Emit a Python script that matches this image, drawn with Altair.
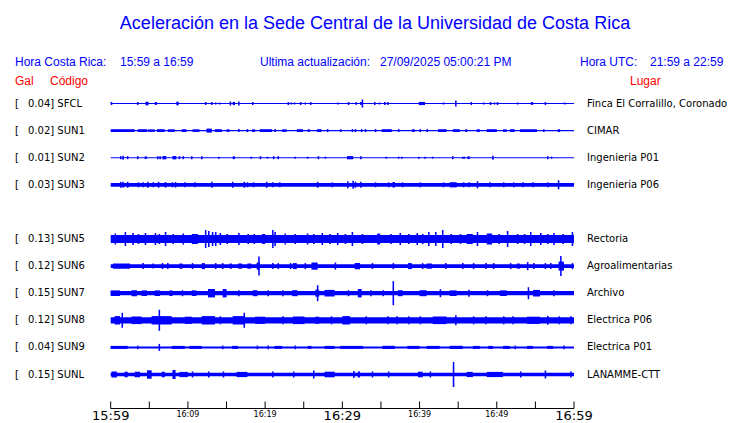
import altair as alt
import pandas as pd

BLUE = "#0000ff"
RED = "#ff0000"
SANS = "Liberation Sans"
DEJA = "DejaVu Sans"
W, H = 724, 415

# ---- stations ----
stations = ["SFCL", "SUN1", "SUN2", "SUN3", "SUN5", "SUN6", "SUN7", "SUN8", "SUN9", "SUNL"]
slots = [0, 1, 2, 3, 5, 6, 7, 8, 9, 10]
gal = [0.04, 0.02, 0.01, 0.03, 0.13, 0.12, 0.15, 0.12, 0.04, 0.15]
places = ["Finca El Corralillo, Coronado", "CIMAR", "Ingenieria P01", "Ingenieria P06",
          "Rectoria", "Agroalimentarias", "Archivo", "Electrica P06", "Electrica P01", "LANAMME-CTT"]

# background noise half-amplitude of each trace (display units)
base_amp = [0.6, 0.7, 0.5, 1.9, 4.1, 1.8, 2.1, 3.1, 1.0, 1.8]

# bursts: (start minute, end minute, half-amplitude)
bursts_SFCL = [(0.0, 0.2, 1.5), (3.4, 3.4, 1.5), (4.5, 4.9, 1.8), (5.7, 6.0, 1.4), (8.5, 8.8, 1.8),
               (12.2, 12.2, 1.5), (13.0, 13.0, 1.5), (13.5, 13.5, 1), (14.0, 14.0, 1), (15.4, 15.4, 2),
               (15.8, 16.1, 1.6), (16.5, 16.6, 2), (18.3, 18.3, 1.5), (22.9, 22.9, 1.5), (23.3, 23.3, 1),
               (23.7, 23.7, 1), (24.5, 24.5, 1.5), (25.1, 25.1, 1), (25.8, 25.9, 1.5), (29.3, 29.3, 1),
               (30.7, 30.7, 1.5), (31.7, 31.9, 1.4), (32.3, 32.3, 1.5), (32.5, 32.5, 4), (34.1, 34.1, 1.5),
               (34.7, 34.7, 1), (35.4, 35.4, 1.5), (35.8, 36.0, 1.4), (39.9, 40.7, 1.6), (43.0, 43.0, 1),
               (44.6, 44.8, 3), (46.6, 46.6, 1.5), (48.2, 48.2, 1), (49.1, 49.1, 1.5), (49.6, 49.6, 1),
               (50.0, 50.0, 1.5), (52.6, 52.6, 1), (54.4, 54.7, 1.4), (56.2, 56.2, 1.5), (58.7, 58.7, 1)]
bursts_SUN1 = [(0, 3.1, 1.4), (3.5, 4.7, 1.4), (4.8, 5.7, 1.2), (6.0, 7.0, 1.4), (7.4, 8.3, 1.3),
               (9.2, 9.8, 1.4), (10.6, 11.5, 1.3), (12.4, 13.1, 2.0), (13.5, 14.4, 1.4), (15.0, 15.4, 1.3),
               (16.5, 16.5, 1.5), (17.6, 17.6, 1.5), (18.3, 18.7, 1.3), (19.3, 20.9, 1.4), (21.2, 21.2, 1.5),
               (22.2, 22.8, 1.3), (24.1, 24.9, 1.4), (25.5, 25.8, 1.3), (26.7, 27.3, 1.4), (28.0, 28.0, 1.5),
               (29.7, 29.9, 1.4), (31.2, 31.2, 1.5), (31.6, 31.6, 1.5), (32.4, 32.4, 1.5), (32.9, 32.9, 1.5),
               (34.2, 34.2, 1.5), (35.1, 36.4, 1.4), (37.2, 37.4, 1.5), (39.0, 39.4, 1.3), (40.0, 40.0, 1.5),
               (40.9, 40.9, 1.5), (42.4, 43.5, 1.4), (44.3, 45.2, 1.4), (45.9, 46.2, 1.3), (47.4, 47.8, 1.4),
               (48.7, 50.0, 1.4), (50.8, 51.3, 1.3), (51.7, 52.3, 1.4), (53.0, 55.2, 1.4), (56.0, 56.2, 1.4),
               (57.9, 58.2, 1.4)]
bursts_SUN2 = [(1.2, 1.2, 1.5), (1.5, 1.5, 2), (2.1, 2.1, 1.5), (3.4, 3.4, 1.5), (4.4, 4.7, 1.3),
               (6.0, 6.0, 1.5), (6.3, 6.3, 1.5), (6.7, 7.2, 1.7), (8.0, 8.5, 1.7), (8.8, 8.8, 1.5), (9.3, 9.3, 1.5),
               (10.4, 10.5, 1.5), (11.7, 11.7, 1.5), (13.9, 13.9, 1), (15.8, 16.1, 1.4), (18.1, 18.1, 1),
               (19.3, 19.3, 1.5), (20.2, 20.2, 1), (21.0, 21.0, 1.5), (21.6, 21.6, 1.5), (23.8, 23.8, 1),
               (25.4, 25.4, 1), (26.8, 26.8, 1.5), (27.7, 27.7, 1), (30.6, 31.4, 1.6), (32.3, 32.3, 1.5),
               (35.6, 35.6, 1), (37.2, 37.2, 1), (37.6, 37.6, 1), (39.8, 39.8, 1), (40.6, 40.6, 1),
               (41.6, 41.6, 1), (44.2, 44.2, 1.5), (45.5, 45.5, 1), (45.7, 45.7, 1), (46.2, 46.5, 1.4),
               (49.4, 49.4, 2), (56.5, 56.6, 1.5), (57.0, 57.0, 1)]
bursts_SUN3 = [(1.2, 1.2, 3), (1.5, 1.5, 3), (2.1, 2.1, 3), (3.5, 3.5, 2.5), (4.1, 4.1, 2.5), (4.7, 4.7, 3),
               (5.4, 5.4, 2.5), (6.1, 6.1, 3), (7.0, 7.2, 2.8), (7.9, 7.9, 2.5), (8.3, 8.5, 2.8), (9.5, 9.5, 2.5),
               (10.8, 10.8, 2.5), (13.0, 13.0, 3), (15.7, 15.8, 3), (17.2, 17.2, 3), (17.6, 17.6, 2.5),
               (18.4, 18.4, 2.5), (20.1, 20.1, 3), (20.9, 20.9, 2.5), (21.8, 21.8, 2.5), (26.7, 26.8, 3),
               (28.6, 28.6, 2.5), (30.6, 30.7, 3.5), (31.3, 31.3, 4), (31.6, 31.6, 3), (32.3, 32.3, 3),
               (34.2, 34.2, 2.5), (35.9, 35.9, 2.5), (36.5, 36.8, 2.8), (37.7, 37.7, 2.5), (40.0, 40.0, 2.5),
               (43.0, 43.0, 2.5), (43.9, 44.8, 2.6), (45.6, 45.6, 2.5), (46.3, 46.3, 2.5), (47.4, 47.4, 3.5),
               (49.0, 49.0, 2.5), (50.8, 50.8, 2.5), (52.1, 52.1, 2.5), (53.3, 53.3, 2.5), (54.6, 54.6, 2.5),
               (56.5, 56.5, 2.5), (57.9, 57.9, 4.5)]
bursts_SUN5 = [(0.5, 0.5, 5.5), (1.8, 1.8, 7), (2.8, 2.8, 6), (3.5, 3.5, 5), (4.4, 4.4, 6), (5.7, 5.7, 6),
               (6.2, 6.2, 5), (7.0, 7.0, 7), (8.0, 8.0, 5), (9.3, 9.3, 5.5), (10.5, 11.3, 5), (12.2, 12.2, 9),
               (12.6, 12.6, 8), (13.1, 13.1, 7), (13.5, 13.5, 7), (14.1, 14.1, 6), (15.0, 15.0, 5),
               (16.5, 16.5, 6), (17.7, 17.7, 5), (18.5, 18.5, 5), (19.6, 20.0, 5), (20.9, 20.9, 9),
               (21.2, 21.2, 7), (22.5, 22.5, 5.5), (23.8, 23.8, 5), (25.4, 25.4, 5.5), (26.2, 26.2, 5),
               (27.3, 27.3, 6), (28.3, 28.3, 5), (29.3, 29.3, 6), (30.3, 30.3, 5), (31.2, 31.2, 7),
               (32.5, 32.5, 5), (34.5, 34.9, 5.5), (36.2, 36.2, 5), (37.4, 37.4, 6), (38.5, 38.5, 5),
               (39.6, 39.6, 6), (40.3, 40.3, 5), (41.1, 41.1, 7), (42.0, 42.0, 7), (42.9, 42.9, 9),
               (44.0, 44.0, 5), (45.2, 45.2, 5), (46.1, 46.9, 5), (47.4, 47.4, 7), (48.7, 49.4, 5.5),
               (50.2, 50.2, 5), (51.3, 51.3, 8), (52.6, 52.6, 5), (53.5, 53.5, 5), (54.3, 54.3, 7),
               (55.6, 55.6, 6), (56.5, 56.5, 5), (57.3, 57.3, 6), (58.5, 58.5, 5), (59.7, 59.7, 7)]
bursts_SUN6 = [(0.3, 2.5, 2.6), (4.1, 4.1, 3), (5.4, 5.4, 2.5), (6.6, 6.6, 3), (7.3, 7.3, 3), (8.9, 9.3, 2.6),
               (10.5, 10.5, 3), (11.8, 12.2, 3.0), (13.5, 13.5, 3), (14.4, 14.4, 3), (15.4, 15.7, 2.6),
               (16.5, 17.0, 2.6), (17.7, 18.2, 2.6), (18.9, 19.3, 3.5), (19.1, 19.1, 9.5), (20.9, 20.9, 3),
               (21.6, 21.6, 3), (23.2, 23.2, 3), (23.6, 24.1, 3.0), (25.1, 25.1, 3), (26.0, 26.8, 3.6),
               (29.0, 29.0, 3.5), (31.6, 32.3, 3.2), (33.8, 33.8, 3), (36.5, 36.5, 3), (38.5, 39.0, 3.0),
               (40.3, 40.3, 3), (40.9, 41.6, 2.6), (43.3, 43.3, 3), (45.5, 45.5, 3), (46.9, 46.9, 3),
               (48.5, 48.5, 3), (49.5, 49.5, 3), (51.7, 51.7, 3), (52.6, 53.0, 2.6), (53.9, 53.9, 4),
               (54.7, 54.7, 3), (56.2, 56.2, 3), (56.9, 56.9, 3), (58.0, 58.7, 4.5), (58.2, 58.4, 10),
               (59.7, 59.7, 3)]
bursts_SUN7 = [(0.0, 1.2, 2.8), (2.7, 3.4, 3.0), (4.0, 4.7, 2.8), (5.7, 6.4, 2.8), (7.6, 8.0, 2.8), (9.2, 9.2, 3),
               (10.5, 11.1, 2.8), (12.6, 13.5, 4.2), (14.5, 15.0, 4.2), (16.5, 16.5, 3), (18.4, 19.0, 3.0),
               (20.3, 20.3, 3), (22.2, 22.2, 3), (23.5, 24.2, 3.0), (26.5, 27.0, 3.5), (26.7, 26.7, 8),
               (27.7, 29.0, 3.3), (30.7, 30.7, 3), (32.0, 32.5, 4.2), (33.6, 33.6, 3), (35.2, 35.2, 3),
               (36.5, 36.5, 12), (37.2, 37.8, 3.0), (40.0, 40.9, 3.0), (42.6, 42.6, 4), (43.9, 44.8, 2.8),
               (46.3, 46.3, 3.5), (48.7, 48.7, 3), (50.4, 51.3, 2.8), (54.0, 54.0, 6), (54.7, 55.6, 3.3),
               (57.3, 57.3, 3)]
bursts_SUN8 = [(0.5, 1.2, 4.2), (1.4, 1.4, 7.5), (2.7, 4.0, 3.8), (5.3, 7.9, 4.2), (6.2, 6.2, 10.5),
               (9.6, 10.5, 3.6), (11.8, 13.5, 4.2), (14.1, 14.1, 4), (15.8, 17.4, 4.2), (17.2, 17.2, 7.5),
               (18.7, 20.0, 3.6), (22.2, 22.2, 4), (23.6, 25.1, 3.8), (26.5, 27.0, 3.6), (28.5, 28.5, 4),
               (30.0, 31.0, 4.2), (33.0, 33.0, 4), (35.8, 35.8, 4), (37.0, 37.0, 4), (38.5, 38.5, 4),
               (40.0, 40.0, 4), (41.7, 43.5, 3.8), (44.6, 44.6, 5), (46.9, 46.9, 4), (48.5, 48.5, 4),
               (50.8, 50.8, 4), (52.0, 52.0, 4), (53.9, 55.6, 3.6), (56.5, 56.5, 4.5), (58.0, 58.0, 4),
               (59.5, 59.5, 4)]
bursts_SUN9 = [(0.0, 2.2, 1.5), (3.4, 3.4, 1.8), (6.2, 6.2, 3.5), (7.9, 9.6, 1.5), (10.2, 11.8, 1.5),
               (14.4, 14.4, 1.8), (15.7, 16.5, 1.5), (18.9, 18.9, 1.8), (20.3, 20.3, 1.8), (21.2, 22.2, 1.5),
               (23.8, 23.8, 1.8), (25.5, 26.0, 1.5), (27.7, 29.0, 1.5), (29.7, 32.7, 1.5), (35.2, 36.8, 1.6),
               (38.4, 40.0, 1.5), (40.9, 42.6, 1.5), (43.9, 45.6, 1.6), (46.9, 47.8, 1.5), (48.9, 49.5, 1.5),
               (50.8, 51.7, 1.5), (52.3, 52.3, 1.8), (53.9, 54.7, 1.5), (56.5, 57.3, 1.5), (58.6, 58.6, 1.8)]
bursts_SUNL = [(0.1, 0.8, 3.0), (1.8, 2.2, 2.8), (3.1, 3.8, 2.8), (4.7, 5.3, 4.2), (6.6, 7.0, 2.8), (8.0, 8.4, 4.5),
               (8.9, 10.0, 2.6), (10.5, 10.5, 3), (12.6, 12.6, 3), (14.5, 14.5, 3), (16.3, 17.7, 2.6),
               (20.9, 20.9, 3), (23.6, 23.6, 3), (26.2, 26.2, 4), (27.7, 29.0, 2.8), (31.4, 31.4, 3.5),
               (32.0, 32.3, 3.0), (33.8, 33.8, 3), (35.9, 35.9, 3), (39.8, 40.4, 2.8), (41.3, 41.3, 3),
               (44.3, 44.3, 12.5), (46.1, 46.9, 2.6), (48.7, 50.8, 2.6), (53.0, 53.0, 3), (56.2, 56.2, 4),
               (59.5, 59.5, 3)]

bursts = [bursts_SFCL, bursts_SUN1, bursts_SUN2, bursts_SUN3, bursts_SUN5,
          bursts_SUN6, bursts_SUN7, bursts_SUN8, bursts_SUN9, bursts_SUNL]

# ---- time axis ----
tick_minutes = list(range(0, 61, 5))
big_minutes = [0, 30, 60]
big_labels = ["15:59", "16:29", "16:59"]
small_minutes = [10, 20, 40, 50]
small_labels = ["16:09", "16:19", "16:39", "16:49"]

ROW_PX = 27.1      # display units per row
MIN_W = 0.2        # minimum width (minutes) of a single spike
XS = alt.Scale(domain=[0, 60], range=[102.7, 566])
YS = alt.Scale(domain=[0, 10], range=[95.5, 366.5])

recs = []
for slot, b, bl in zip(slots, base_amp, bursts):
    recs.append(dict(t0=0.0, t1=60.0, lo=slot - b / ROW_PX, hi=slot + b / ROW_PX))
    for (s, e, a) in bl:
        recs.append(dict(t0=s, t1=max(e, s + MIN_W), lo=slot - a / ROW_PX, hi=slot + a / ROW_PX))
traces = pd.DataFrame(recs)

rows = pd.DataFrame(dict(slot=slots,
                         lbl=[f"{g:.2f}] {c}" for g, c in zip(gal, stations)],
                         place=places))

trace_layer = alt.Chart(traces).mark_rect(color=BLUE).encode(
    x=alt.X("t0:Q", scale=XS, axis=None), x2="t1:Q",
    y=alt.Y("lo:Q", scale=YS, axis=None), y2="hi:Q")

bracket = alt.Chart(rows).mark_text(align="left", baseline="middle", font=DEJA, fontSize=10,
                                    color="black").encode(
    x=alt.value(7), y=alt.Y("slot:Q", scale=YS, axis=None), text=alt.value("["))
code_lbl = alt.Chart(rows).mark_text(align="left", baseline="middle", font=DEJA, fontSize=10,
                                     color="black").encode(
    x=alt.value(20), y=alt.Y("slot:Q", scale=YS, axis=None), text="lbl:N")
place_lbl = alt.Chart(rows).mark_text(align="left", baseline="middle", font=DEJA, fontSize=10,
                                      color="black").encode(
    x=alt.value(579), y=alt.Y("slot:Q", scale=YS, axis=None), text="place:N")

axis_line = alt.Chart(pd.DataFrame(dict(a=[0], b=[60]))).mark_rule(color="black", strokeWidth=1).encode(
    x=alt.X("a:Q", scale=XS, axis=None), x2="b:Q", y=alt.value(400.5))
ticks = alt.Chart(pd.DataFrame(dict(m=tick_minutes))).mark_rule(color="black", strokeWidth=1).encode(
    x=alt.X("m:Q", scale=XS, axis=None), y=alt.value(393.5), y2=alt.value(400.5))
big_lab = alt.Chart(pd.DataFrame(dict(m=big_minutes, t=big_labels))).mark_text(
    align="center", baseline="middle", font=DEJA, fontSize=13, color="black").encode(
    x=alt.X("m:Q", scale=XS, axis=None), y=alt.value(408), text="t:N")
small_lab = alt.Chart(pd.DataFrame(dict(m=small_minutes, t=small_labels))).mark_text(
    align="center", baseline="middle", font=DEJA, fontSize=8, color="black").encode(
    x=alt.X("m:Q", scale=XS, axis=None), y=alt.value(406.5), text="t:N")

one = pd.DataFrame(dict(k=[0]))


def label(txt, x, y, size=12, color=BLUE, align="left", font=SANS):
    return alt.Chart(one).mark_text(align=align, baseline="middle", font=font, fontSize=size,
                                    color=color).encode(
        x=alt.value(x), y=alt.value(y), text=alt.value(txt))


headers = [
    label("Aceleración en la Sede Central de la Universidad de Costa Rica", 367, 15.5, size=18, align="center"),
    label("Hora Costa Rica:", 7, 54),
    label("15:59 a 16:59", 112, 54),
    label("Ultima actualización:", 252, 54),
    label("27/09/2025 05:00:21 PM", 372, 54),
    label("Hora UTC:", 572, 54),
    label("21:59 a 22:59", 642, 54),
    label("Gal", 7, 73, color=RED),
    label("Código", 42, 73, color=RED),
    label("Lugar", 622, 73, color=RED),
]

chart = alt.layer(trace_layer, bracket, code_lbl, place_lbl, axis_line, ticks, big_lab, small_lab,
                  *headers).properties(
    width=W, height=H, autosize=alt.AutoSizeParams(type="none"), padding=0
).configure_view(stroke=None)

chart.save("out.html", embed_options={"renderer": "svg", "actions": False})
